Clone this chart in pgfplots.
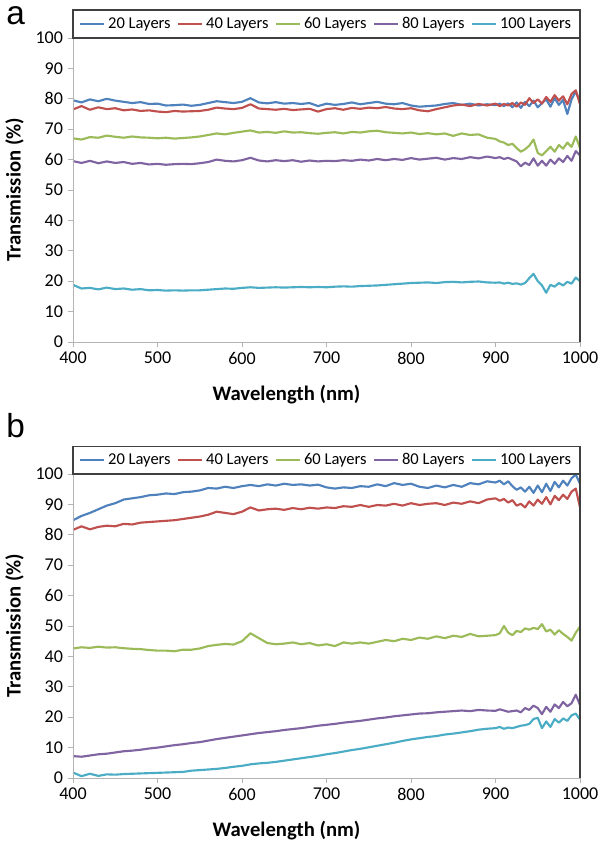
\documentclass[border=0pt]{standalone}
\usepackage{pgfplots}
\usepackage{pgfplotstable}
\pgfplotsset{compat=1.18}
\usepackage{fontspec}
\setmainfont{Carlito}
\newfontfamily\arialf{Liberation Sans}
\definecolor{cBlue}{HTML}{4F81BD}
\definecolor{cRed}{HTML}{C0504D}
\definecolor{cGreen}{HTML}{9BBB59}
\definecolor{cPurple}{HTML}{8064A2}
\definecolor{cCyan}{HTML}{4BACC6}
\definecolor{axgray}{HTML}{B4B4B4}

\pgfplotstableread{
x b r g p c
400 79.5 76.5 67.0 59.5 18.8
410 78.8 77.6 66.6 58.9 17.6
420 79.8 76.4 67.4 59.6 17.8
430 79.2 77.2 67.2 58.8 17.3
440 80.0 76.6 67.9 59.4 17.9
450 79.4 76.9 67.5 58.9 17.4
460 79.0 76.2 67.2 59.2 17.6
470 78.6 76.5 67.6 58.6 17.2
480 78.9 76.0 67.3 58.9 17.4
490 78.3 76.2 67.2 58.4 17.0
500 78.4 75.8 67.0 58.6 17.1
510 77.8 75.6 67.2 58.3 16.9
520 77.9 76.0 66.9 58.5 17.0
530 78.1 75.8 67.1 58.6 16.9
540 77.7 75.9 67.3 58.5 17.0
550 78.0 76.0 67.6 58.8 17.0
560 78.6 76.4 68.1 59.2 17.2
570 79.2 77.1 68.6 60.0 17.4
580 78.9 76.8 68.3 59.6 17.6
590 78.6 76.6 68.8 59.4 17.5
600 79.0 77.0 69.2 59.8 17.8
610 80.2 78.2 69.6 60.6 18.0
620 78.8 76.8 68.9 59.7 17.8
630 78.5 76.6 69.1 59.4 17.9
640 78.9 76.4 68.8 59.8 18.0
650 78.4 76.7 69.3 59.5 17.9
660 78.6 76.3 68.9 59.8 18.0
670 78.3 76.5 69.0 59.3 18.1
680 78.6 76.7 68.7 59.7 18.0
690 77.6 75.8 68.5 59.4 18.1
700 78.4 76.6 68.8 59.6 18.0
710 78.0 76.9 69.0 59.5 18.2
720 78.3 76.4 68.6 59.8 18.3
730 78.8 77.0 69.1 59.6 18.2
740 78.2 76.7 68.9 60.0 18.4
750 78.6 77.1 69.3 59.7 18.5
760 79.0 76.9 69.5 60.2 18.6
770 78.4 77.3 69.0 59.8 18.8
780 78.2 76.8 68.8 60.2 19.0
790 78.6 76.6 68.6 59.9 19.2
800 77.8 76.9 68.9 60.5 19.4
810 77.4 76.2 68.4 60.0 19.5
820 77.6 75.9 68.7 60.3 19.6
830 77.8 76.6 68.3 60.6 19.4
840 78.3 77.2 68.6 60.0 19.7
850 78.6 77.8 67.8 60.5 19.8
860 78.0 78.1 68.6 60.2 19.6
870 78.4 77.6 68.1 60.8 19.8
880 77.8 78.3 68.3 60.4 19.9
890 78.2 77.8 67.2 61.0 19.6
900 77.9 78.4 66.8 60.5 19.5
905 78.4 77.6 66.0 60.8 19.6
910 77.6 78.3 65.6 60.2 19.2
915 78.5 77.8 64.8 60.6 19.5
920 77.2 78.6 65.2 60.0 19.1
925 78.8 77.4 63.8 59.4 19.3
930 77.0 78.8 62.6 57.8 18.9
935 79.0 78.0 63.4 59.0 19.4
940 77.6 80.2 64.6 58.2 21.0
945 79.4 78.6 66.6 60.4 22.4
950 77.2 79.8 62.2 58.0 20.0
955 78.6 78.4 61.4 59.6 18.6
960 79.8 80.6 62.8 58.0 16.2
965 77.4 79.0 64.2 60.0 18.8
970 80.2 81.2 62.6 58.6 18.2
975 78.0 79.4 64.8 60.4 19.4
980 79.6 80.8 63.6 59.2 18.6
985 75.0 78.2 65.6 61.2 19.8
990 79.8 81.6 64.2 59.6 19.2
995 82.4 82.8 67.6 62.8 21.2
1000 79.0 78.2 63.8 61.4 20.0
}\tableA

\pgfplotstableread{
x b r g p c
400 84.8 81.6 42.6 7.2 1.8
410 86.2 82.8 43.0 7.0 0.6
420 87.2 81.8 42.8 7.4 1.4
430 88.4 82.6 43.2 7.8 0.7
440 89.6 83.0 42.9 8.0 1.2
450 90.4 82.8 43.0 8.4 1.1
460 91.6 83.6 42.7 8.8 1.3
470 92.0 83.4 42.5 9.0 1.4
480 92.4 84.0 42.4 9.3 1.5
490 93.0 84.2 42.1 9.7 1.6
500 93.2 84.4 41.9 10.0 1.7
510 93.6 84.6 41.9 10.4 1.8
520 93.4 84.8 41.7 10.8 1.9
530 94.0 85.2 42.2 11.1 2.0
540 94.2 85.6 42.2 11.5 2.4
550 94.6 86.0 42.6 11.8 2.6
560 95.4 86.6 43.4 12.3 2.8
570 95.2 87.6 43.8 12.8 3.0
580 95.8 87.2 44.1 13.2 3.3
590 95.4 86.8 43.9 13.6 3.7
600 96.0 87.6 45.0 14.0 4.0
610 96.4 89.0 47.6 14.4 4.5
620 96.0 88.0 46.0 14.8 4.8
630 96.6 88.4 44.4 15.1 5.0
640 96.2 88.6 44.0 15.4 5.3
650 96.8 88.2 44.2 15.8 5.7
660 96.4 88.8 44.6 16.1 6.1
670 96.6 88.4 44.0 16.4 6.5
680 96.2 88.9 44.4 16.8 6.9
690 96.5 88.6 43.6 17.2 7.3
700 95.6 89.0 44.0 17.5 7.8
710 95.2 88.8 43.4 17.8 8.2
720 95.6 89.4 44.6 18.2 8.7
730 95.4 89.2 44.2 18.5 9.2
740 96.0 89.8 44.6 18.8 9.6
750 95.8 89.2 44.2 19.2 10.1
760 96.6 89.8 44.8 19.6 10.6
770 96.0 89.6 45.4 19.9 11.1
780 97.0 90.2 45.0 20.3 11.6
790 96.4 89.6 45.8 20.6 12.2
800 96.8 90.4 45.4 20.9 12.7
810 95.8 89.8 46.2 21.2 13.1
820 95.4 90.2 45.8 21.3 13.5
830 96.2 90.4 46.6 21.6 13.8
840 95.6 89.8 46.0 21.8 14.3
850 96.4 90.6 46.8 22.0 14.6
860 95.8 90.2 46.4 22.2 15.0
870 97.0 91.0 47.4 22.0 15.4
880 96.6 90.4 46.6 22.4 15.9
890 97.6 91.6 46.8 22.2 16.2
900 97.2 92.0 47.0 22.1 16.4
905 97.8 91.2 47.6 22.6 16.8
910 96.6 91.8 50.0 22.2 16.2
915 97.6 90.6 47.8 21.8 16.6
920 96.0 91.4 47.0 22.0 16.4
925 94.8 89.6 48.4 22.2 16.8
930 95.6 90.2 48.0 21.6 17.2
935 94.2 89.0 49.2 23.0 17.4
940 95.8 91.0 48.8 22.4 17.8
945 93.8 89.6 49.4 23.8 19.4
950 96.2 91.6 49.0 23.0 19.8
955 94.0 90.2 50.6 21.0 16.4
960 96.8 92.4 48.2 23.4 18.6
965 94.4 90.0 48.8 21.8 16.8
970 97.4 92.8 47.2 24.2 19.4
975 95.6 91.4 48.6 23.0 18.2
980 97.8 93.2 47.4 25.0 19.6
985 96.2 91.8 46.4 23.6 18.8
990 98.6 94.2 45.2 24.6 20.6
995 99.8 95.2 47.8 27.4 21.2
1000 96.8 89.0 49.8 24.0 19.2
}\tableB

\pgfplotsset{
  panel/.style={
    width=380.25pt, height=228pt, scale only axis,
    xmin=400, xmax=1000, ymin=0, ymax=100,
    xtick={400,500,...,1000}, ytick={0,10,...,100},
    axis line style={draw=none},
    tick align=outside, xtick pos=bottom, ytick pos=left,
    major tick length=4pt,
    every tick/.style={axgray, line width=0.6pt},
    ticklabel style={font=\fontsize{13.5}{16}\selectfont},
    /pgf/number format/assume math mode=true,
    /pgf/number format/1000 sep={},
    xlabel={Wavelength (nm)}, ylabel={Transmission (\%)},
    label style={font=\bfseries\fontsize{15.5}{18}\selectfont},
    xlabel style={yshift=-9pt, xshift=-30pt},
    ylabel style={yshift=2pt},
    clip mode=individual,
    legend columns=-1,
    legend style={at={(0.5,1.046)}, anchor=center, draw=none, fill=none,
      font=\fontsize{12.4}{14}\selectfont, inner sep=0pt,
      /tikz/every even column/.append style={column sep=3pt}},
    legend image code/.code={\draw[#1] (0pt,0pt) -- (18pt,0pt);},
    every axis plot/.append style={line width=1.6pt, line join=round},
    after end axis/.code={
      \draw[axgray, line width=0.7pt] (rel axis cs:0,0) -- (rel axis cs:0,1);
      \draw[axgray, line width=0.7pt] (rel axis cs:0,0) -- (rel axis cs:1,0);
      \draw[black!75, line width=0.8pt] (rel axis cs:1,0) -- (rel axis cs:1,1);
      \draw[black!75, line width=0.8pt] (rel axis cs:0,1) rectangle (rel axis cs:1,1.092);
    },
  }
}

\begin{document}
\begin{tikzpicture}
\begin{axis}[panel, at={(0,0)}]
\addplot[cBlue] table[x=x,y=b]{\tableA};
\addplot[cRed] table[x=x,y=r]{\tableA};
\addplot[cGreen] table[x=x,y=g]{\tableA};
\addplot[cPurple] table[x=x,y=p]{\tableA};
\addplot[cCyan] table[x=x,y=c]{\tableA};
\legend{20 Layers,40 Layers,60 Layers,80 Layers,100 Layers}
\end{axis}
\begin{axis}[panel, at={(0,-327pt)}]
\addplot[cBlue] table[x=x,y=b]{\tableB};
\addplot[cRed] table[x=x,y=r]{\tableB};
\addplot[cGreen] table[x=x,y=g]{\tableB};
\addplot[cPurple] table[x=x,y=p]{\tableB};
\addplot[cCyan] table[x=x,y=c]{\tableB};
\legend{20 Layers,40 Layers,60 Layers,80 Layers,100 Layers}
\end{axis}
\node[anchor=north west, inner sep=0pt, font=\arialf\fontsize{25}{30}\selectfont] at (-50.25pt,251.5pt) {a};
\node[anchor=north west, inner sep=0pt, font=\arialf\fontsize{25}{30}\selectfont] at (-50.25pt,-53.25pt) {b};
\pgfresetboundingbox
\path (-54.75pt,-377.25pt) rectangle (395.25pt,256.5pt);
\end{tikzpicture}
\end{document}
